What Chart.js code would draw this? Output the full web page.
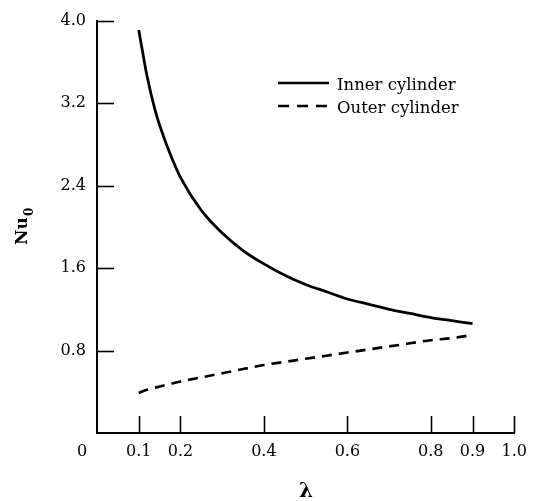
<!DOCTYPE html>
<html>
<head>
<meta charset="utf-8">
<script src="https://cdn.jsdelivr.net/npm/chart.js@4/dist/chart.umd.min.js"></script>
<style>
  html, body { margin: 0; padding: 0; background: #fff; overflow: hidden; }
  #wrap { width: 536px; height: 501px; }
  canvas { display: block; }
</style>
</head>
<body>
<div id="wrap"><canvas id="chart" width="536" height="501"></canvas></div>
<script>
// values
const lambda = [0.1, 0.12, 0.14, 0.16, 0.18, 0.2, 0.25, 0.3, 0.35, 0.4, 0.45, 0.5, 0.55, 0.6, 0.65, 0.7, 0.75, 0.8, 0.85, 0.9];
const innerNu = [3.91, 3.46, 3.12, 2.87, 2.66, 2.48, 2.16, 1.94, 1.77, 1.64, 1.53, 1.44, 1.37, 1.30, 1.25, 1.20, 1.16, 1.12, 1.09, 1.06];
const outerNu = [0.39, 0.42, 0.44, 0.46, 0.48, 0.50, 0.54, 0.58, 0.62, 0.66, 0.69, 0.72, 0.75, 0.78, 0.81, 0.84, 0.87, 0.90, 0.92, 0.95];
const xTicks = [0, 0.1, 0.2, 0.4, 0.6, 0.8, 0.9, 1.0];
const yTicks = [0, 0.8, 1.6, 2.4, 3.2, 4.0];
const seriesNames = ['Inner cylinder', 'Outer cylinder'];

const serif = 'DejaVu Serif';

const toPoints = (ys) => lambda.map((x, i) => ({ x: x, y: ys[i] }));

// ticks point inwards, legend and axis titles are drawn by hand
const decor = {
  id: 'decor',
  afterDraw(chart) {
    const { ctx, scales: { x, y } } = chart;
    ctx.save();
    ctx.strokeStyle = '#000';
    ctx.fillStyle = '#000';
    ctx.lineWidth = 1.6;
    xTicks.forEach(v => {
      if (v === 0) return;
      const px = Math.round(x.getPixelForValue(v)) + 0.5;
      ctx.beginPath();
      ctx.moveTo(px, y.bottom);
      ctx.lineTo(px, y.bottom - 17);
      ctx.stroke();
    });
    yTicks.forEach(v => {
      if (v === 0) return;
      const py = Math.round(y.getPixelForValue(v)) + 0.5;
      ctx.beginPath();
      ctx.moveTo(x.left, py);
      ctx.lineTo(x.left + 17, py);
      ctx.stroke();
    });

    // shared origin label
    ctx.font = `16px "${serif}"`;
    ctx.textAlign = 'center';
    ctx.textBaseline = 'middle';
    ctx.fillText('0', x.getPixelForValue(0) - 15, 452);

    // legend
    const lx = 278, lw = 51;
    const rows = [83, 106];
    chart.data.datasets.forEach((ds, i) => {
      ctx.lineWidth = 2.6;
      ctx.setLineDash(i === 0 ? [] : [11, 8]);
      ctx.beginPath();
      ctx.moveTo(lx, rows[i]);
      ctx.lineTo(lx + lw, rows[i]);
      ctx.stroke();
      ctx.setLineDash([]);
      ctx.font = `16.5px "${serif}"`;
      ctx.textAlign = 'left';
      ctx.textBaseline = 'alphabetic';
      ctx.fillText(ds.label, 337, rows[i] + 7);
    });

    // x title
    ctx.font = `bold 20px "${serif}"`;
    ctx.textAlign = 'center';
    ctx.textBaseline = 'alphabetic';
    ctx.fillText('\u03bb', 306, 497);

    // y title with subscript
    ctx.translate(27, 245);
    ctx.rotate(-Math.PI / 2);
    ctx.textAlign = 'left';
    ctx.textBaseline = 'alphabetic';
    ctx.font = `bold 17px "${serif}"`;
    ctx.fillText('Nu', 0, 0);
    const w = ctx.measureText('Nu').width;
    ctx.font = `bold 12px "${serif}"`;
    ctx.fillText('0', w + 1, 6);
    ctx.restore();
  }
};

new Chart(document.getElementById('chart'), {
  type: 'line',
  data: {
    datasets: [{
      label: seriesNames[0],
      data: toPoints(innerNu),
      borderColor: '#000',
      borderWidth: 2.8,
      pointRadius: 0,
      cubicInterpolationMode: 'monotone',
      fill: false,
    }, {
      label: seriesNames[1],
      data: toPoints(outerNu),
      borderColor: '#000',
      borderWidth: 2.6,
      borderDash: [10, 7],
      pointRadius: 0,
      cubicInterpolationMode: 'monotone',
      fill: false,
    }],
  },
  options: {
    responsive: false,
    animation: false,
    events: [],
    layout: { padding: { left: 0, top: 13, right: 18, bottom: 0 } },
    plugins: {
      legend: { display: false },
      tooltip: { enabled: false },
    },
    scales: {
      x: {
        type: 'linear',
        min: 0,
        max: 1,
        afterBuildTicks: (s) => { s.ticks = xTicks.map(v => ({ value: v })); },
        afterFit: (s) => { s.height = 68; },
        grid: { display: false, drawTicks: false },
        border: { display: true, color: '#000', width: 2 },
        ticks: {
          color: '#000',
          padding: 9,
          maxRotation: 0,
          autoSkip: false,
          font: { family: serif, size: 16 },
          callback: (v) => v === 0 ? '' : v.toFixed(1),
        },
      },
      y: {
        min: 0,
        max: 4,
        afterBuildTicks: (s) => { s.ticks = yTicks.map(v => ({ value: v })); },
        afterFit: (s) => { s.width = 97; },
        grid: { display: false, drawTicks: false },
        border: { display: true, color: '#000', width: 2 },
        ticks: {
          color: '#000',
          padding: 11,
          font: { family: serif, size: 16 },
          callback: (v) => v === 0 ? '' : v.toFixed(1),
        },
      },
    },
  },
  plugins: [decor],
});
</script>
</body>
</html>
